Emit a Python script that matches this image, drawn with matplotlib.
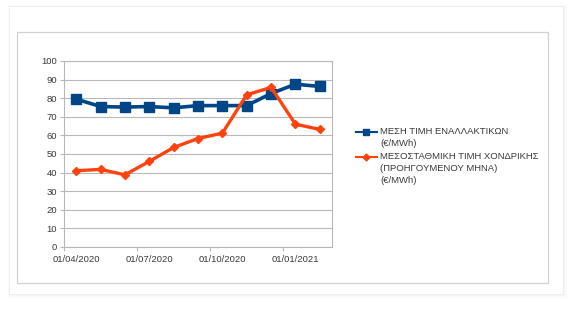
import matplotlib
matplotlib.use('Agg')
import matplotlib.pyplot as plt
from matplotlib.patches import Rectangle
from matplotlib.lines import Line2D
import numpy as np

# data: monthly values Apr 2020 - Feb 2021
months = ['01/04/2020', '01/05/2020', '01/06/2020', '01/07/2020', '01/08/2020', '01/09/2020',
          '01/10/2020', '01/11/2020', '01/12/2020', '01/01/2021', '01/02/2021']
alt_price = [79.5, 75.5, 75.2, 75.5, 74.8, 76.0, 76.0, 76.0, 82.5, 87.5, 86.3]
wholesale_price = [41.0, 41.7, 38.8, 46.0, 53.5, 58.3, 61.2, 81.8, 85.8, 66.0, 63.2]
label_alt = ['ΜΕΣΗ ΤΙΜΗ ΕΝΑΛΛΑΚΤΙΚΩΝ', '(€/MWh)']
label_whs = ['ΜΕΣΟΣΤΑΘΜΙΚΗ ΤΙΜΗ ΧΟΝΔΡΙΚΗΣ', '(ΠΡΟΗΓΟΥΜΕΝΟΥ ΜΗΝΑ)', '(€/MWh)']

blue = '#004586'
orange = '#ff420e'
txt = '#3a3a3a'
fs = 6.8
plt.rcParams['font.family'] = ['Liberation Sans', 'DejaVu Sans']

fig = plt.figure(figsize=(5.68, 3.18), dpi=100)
fig.patch.set_facecolor('white')

# card with faint shadow
for pad, a in [(0.007, 0.015), (0.004, 0.02), (0.002, 0.03)]:
    fig.patches.append(Rectangle((0.0176 - pad * 0.5, 0.0755 - pad * 1.8), 0.9736 + 1.5 * pad, 0.9025 + 2.8 * pad,
                                 transform=fig.transFigure, facecolor='black', alpha=a,
                                 edgecolor='none', zorder=0))
fig.patches.append(Rectangle((0.0176, 0.0755), 0.9736, 0.9025, transform=fig.transFigure,
                             facecolor='white', edgecolor='none', zorder=1))
fig.patches.append(Rectangle((0.0299, 0.110), 0.935, 0.789, transform=fig.transFigure,
                             facecolor='white', edgecolor='#d2d2d2', lw=0.9, zorder=2))

ax = fig.add_axes([0.1127, 0.2233, 0.4718, 0.585])
ax.set_zorder(3)
x = np.arange(len(months))
ax.plot(x, alt_price, color=blue, lw=2.6, marker='s', ms=6.5, zorder=3)
ax.plot(x, wholesale_price, color=orange, lw=2.4, marker='D', ms=4, zorder=4)

ax.set_xlim(-0.5, len(months) - 0.5)
ax.set_ylim(0, 100)
ax.set_yticks(range(0, 101, 10))
ax.grid(axis='y', color='#b8b8b8', lw=0.8)
ax.set_axisbelow(True)

ax.set_xticks([-0.5, 2.5, 5.5, 8.5])
ax.set_xticklabels([])
ax.set_xticks(x[::3], minor=True)
ax.set_xticklabels(months[::3], minor=True)
ax.tick_params(axis='x', which='minor', length=0, pad=6, labelsize=fs, labelcolor=txt)
ax.tick_params(axis='x', which='major', length=3, color='#b8b8b8')
ax.tick_params(axis='y', length=3, color='#b8b8b8', labelsize=fs, labelcolor=txt, pad=2)
for s in ax.spines.values():
    s.set_color('#b8b8b8')
    s.set_linewidth(0.8)

# legend
def legend_entry(y, color, marker, ms, lines):
    fig.lines.append(Line2D([0.6268, 0.6637], [y, y], transform=fig.transFigure, color=color, lw=1.5, zorder=5))
    fig.lines.append(Line2D([0.6444], [y], transform=fig.transFigure, color=color, marker=marker, ms=ms,
                            zorder=5))
    for i, t in enumerate(lines):
        fig.text(0.669, y - i * 0.0377, t, fontsize=fs, color=txt, va='center', ha='left', zorder=5)

legend_entry(0.585, blue, 's', 4.5, label_alt)
legend_entry(0.5063, orange, 'D', 3.5, label_whs)

fig.savefig('out.png', dpi=100)
